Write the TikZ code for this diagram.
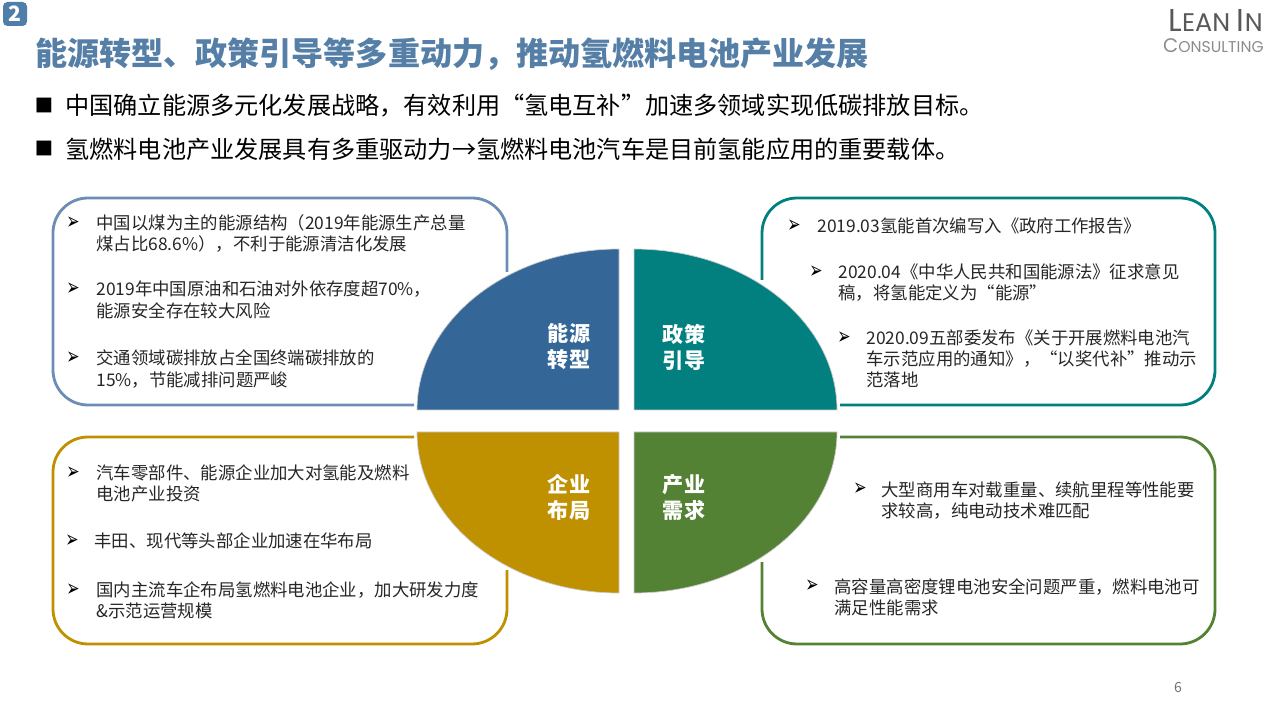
\documentclass[tikz,border=0pt]{standalone}
\usepackage{fontspec}
\setmainfont{Noto Sans CJK SC}
\newfontfamily\bulletfont{DejaVu Sans}
\newfontfamily\logofont{Poppins}
\definecolor{badgeblue}{HTML}{4F7FA8}
\definecolor{titleblue}{HTML}{557FA6}
\definecolor{frameblue}{HTML}{6C8EB6}
\definecolor{energyblue}{HTML}{346797}
\definecolor{policyteal}{HTML}{028080}
\definecolor{firmgold}{HTML}{BF9000}
\definecolor{needgreen}{HTML}{548235}
\definecolor{bodygray}{HTML}{262626}
\newcommand{\arrowsign}{\scalebox{1}[1.5]{➢}}
\tikzset{
  quarter/.style = {draw=white!80!black, line width=0.4pt},
  frame/.style = {line width=1.6pt, rounded corners=0.7cm},
  sectorlabel/.style = {text=white, font=\fontsize{12}{14.8}\selectfont\bfseries, align=center},
  bodytext/.style = {anchor=west, inner sep=0pt, xshift=-0.5pt, text=bodygray, font=\fontsize{9.9}{12}\selectfont},
  mainline/.style = {anchor=west, inner sep=0pt, xshift=-0.5pt, text=black, font=\fontsize{13.75}{16}\selectfont},
  arrowmark/.style = {anchor=center, inner sep=0pt, text=black, font=\fontsize{9}{10}\bulletfont},
  squaremark/.style = {anchor=center, inner sep=0pt, text=black, font=\fontsize{11}{12}\bulletfont}
}
\begin{document}
\begin{tikzpicture}[x=0.02cm, y=0.02cm]
\useasboundingbox (0,0) rectangle (1280,720);
% header
\fill[badgeblue, rounded corners=2.5pt] (3,694) rectangle (27,718);
\node[text=white, font=\fontsize{12}{14}\selectfont\bfseries] (badge) at (15,706) {2};
\node[anchor=west, inner sep=0pt, text=titleblue, font=\fontsize{18.25}{20}\selectfont\bfseries] (title) at (35,666) {能源转型、政策引导等多重动力，推动氢燃料电池产业发展};
\node[anchor=east, inner sep=0pt, text=black!65, font=\logofont\fontsize{18}{20}\selectfont] (logoa) at (1263,700) {L\fontsize{14.5}{20}\selectfont EAN \fontsize{18}{20}\selectfont I\fontsize{14.5}{20}\selectfont N};
\node[anchor=east, inner sep=0pt, text=black!45, font=\logofont\fontsize{11.2}{12}\selectfont] (logob) at (1264,674) {C\fontsize{8.9}{12}\selectfont ONSULTING};
% two main lines
\node[squaremark] (ma) at (44,615) {■};
\node[mainline] (la) at (66,614) {中国确立能源多元化发展战略，有效利用“氢电互补”加速多领域实现低碳排放目标。};
\node[squaremark] (mb) at (44,572) {■};
\node[mainline] (lb) at (66,571) {氢燃料电池产业发展具有多重驱动力→氢燃料电池汽车是目前氢能应用的重要载体。};
% frames
\draw[frame, frameblue] (414,315) -- (53,315) -- (53,522) -- (507,522) -- (507,448);
\draw[frame, policyteal] (840,315) -- (1215,315) -- (1215,522) -- (762,522) -- (762,440);
\draw[frame, firmgold] (414,283) -- (53,283) -- (53,76) -- (507,76) -- (507,150);
\draw[frame, needgreen] (840,283) -- (1215,283) -- (1215,76) -- (762,76) -- (762,158);
% quarter sectors
\filldraw[quarter, fill=energyblue] (619,310) -- (417,310) arc[start angle=180, end angle=90, x radius=202, y radius=161] -- cycle;
\filldraw[quarter, fill=policyteal] (634,310) -- (837,310) arc[start angle=0, end angle=90, x radius=203, y radius=161] -- cycle;
\filldraw[quarter, fill=firmgold] (619,288) -- (417,288) arc[start angle=180, end angle=270, x radius=202, y radius=161] -- cycle;
\filldraw[quarter, fill=needgreen] (634,288) -- (837,288) arc[start angle=360, end angle=270, x radius=203, y radius=161] -- cycle;
\node[sectorlabel] (energy) at (569,373) {能源\\转型};
\node[sectorlabel] (policy) at (684,373) {政策\\引导};
\node[sectorlabel] (firm) at (569,223) {企业\\布局};
\node[sectorlabel] (need) at (684,223) {产业\\需求};
% top left
\node[arrowmark] at (73,497) {\arrowsign};
\node[bodytext] (ea) at (97,497) {中国以煤为主的能源结构（2019年能源生产总量};
\node[bodytext] (eb) at (97,476) {煤占比68.6\%），不利于能源清洁化发展};
\node[arrowmark] at (73,431) {\arrowsign};
\node[bodytext] (ec) at (97,431) {2019年中国原油和石油对外依存度超70\%，};
\node[bodytext] (ed) at (97,409) {能源安全存在较大风险};
\node[arrowmark] at (73,362) {\arrowsign};
\node[bodytext] (ee) at (97,362) {交通领域碳排放占全国终端碳排放的};
\node[bodytext] (ef) at (97,340) {15\%，节能减排问题严峻};
% top right
\node[arrowmark] at (794,494) {\arrowsign};
\node[bodytext] (pa) at (818,494) {2019.03氢能首次编写入《政府工作报告》};
\node[arrowmark] at (816,448) {\arrowsign};
\node[bodytext] (pb) at (839,448) {2020.04《中华人民共和国能源法》征求意见};
\node[bodytext] (pc) at (839,427) {稿，将氢能定义为“能源”};
\node[arrowmark] at (844,382) {\arrowsign};
\node[bodytext] (pd) at (867,382) {2020.09五部委发布《关于开展燃料电池汽};
\node[bodytext] (pe) at (867,361) {车示范应用的通知》，“以奖代补”推动示};
\node[bodytext] (pf) at (867,340) {范落地};
% bottom left
\node[arrowmark] at (73,247) {\arrowsign};
\node[bodytext] (fa) at (97,247) {汽车零部件、能源企业加大对氢能及燃料};
\node[bodytext] (fb) at (97,226) {电池产业投资};
\node[arrowmark] at (72,179) {\arrowsign};
\node[bodytext] (fc) at (95,179) {丰田、现代等头部企业加速在华布局};
\node[arrowmark] at (73,130) {\arrowsign};
\node[bodytext] (fd) at (97,130) {国内主流车企布局氢燃料电池企业，加大研发力度};
\node[bodytext] (fe) at (97,109) {\&示范运营规模};
% bottom right
\node[arrowmark] at (860,231) {\arrowsign};
\node[bodytext] (na) at (882,230) {大型商用车对载重量、续航里程等性能要};
\node[bodytext] (nb) at (882,209) {求较高，纯电动技术难匹配};
\node[arrowmark] at (812,134) {\arrowsign};
\node[bodytext] (nc) at (835,133) {高容量高密度锂电池安全问题严重，燃料电池可};
\node[bodytext] (nd) at (835,112) {满足性能需求};
% page number
\node[text=black!55, font=\fontsize{8}{10}\selectfont] (pageno) at (1178,33) {6};
\end{tikzpicture}
\end{document}
